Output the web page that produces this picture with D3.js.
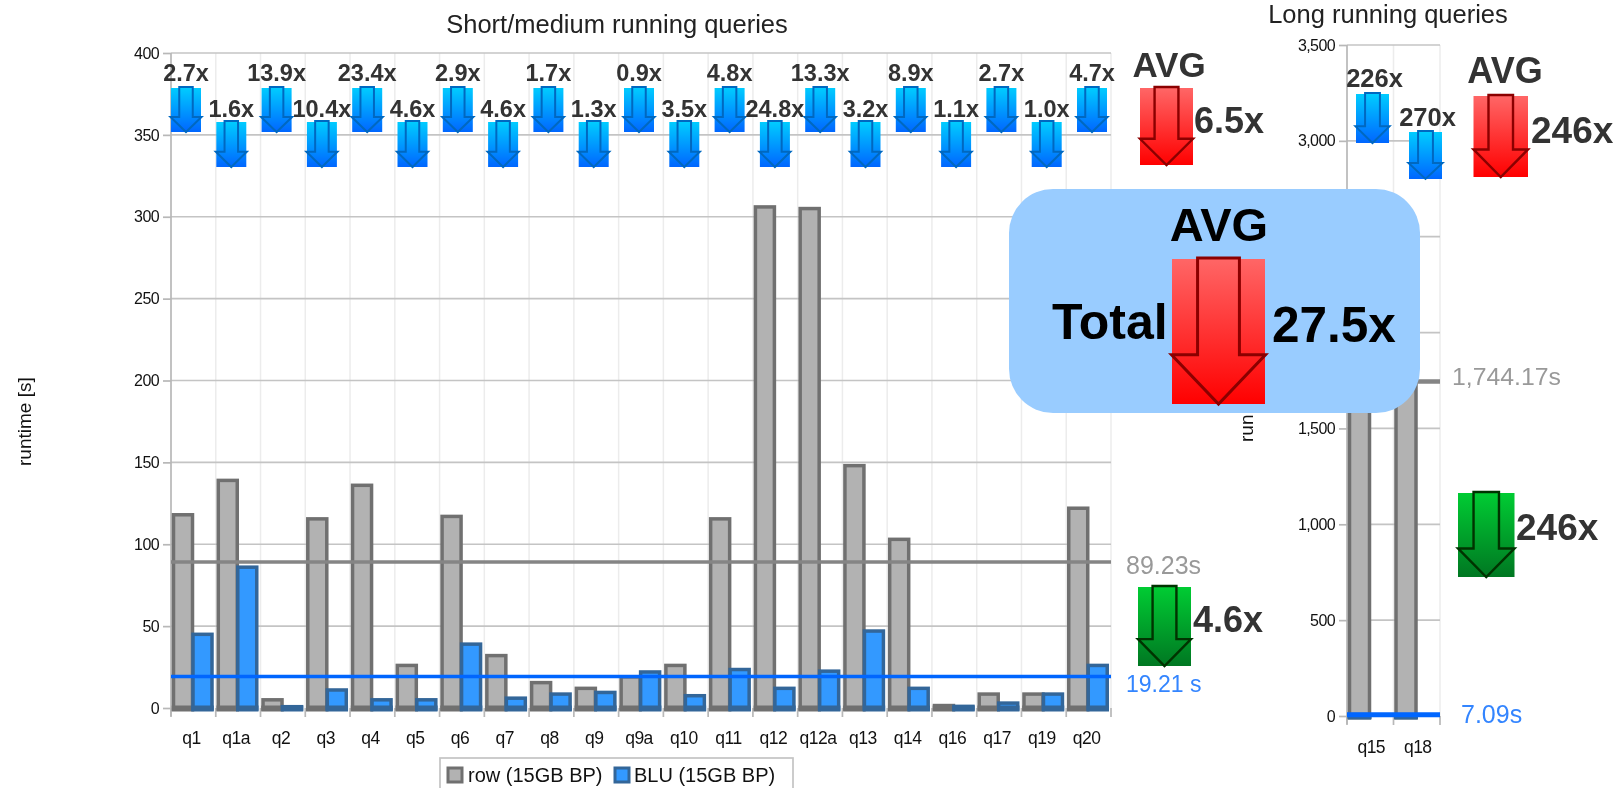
<!DOCTYPE html>
<html><head><meta charset="utf-8">
<script src="https://cdn.jsdelivr.net/npm/d3@7/dist/d3.min.js"></script>
<style>
html,body{margin:0;padding:0;background:#fff;overflow:hidden}
svg{display:block;filter:blur(0.7px)}
text{font-family:"Liberation Sans",Arial,sans-serif}
</style></head><body><svg id="c" width="1624" height="788"></svg>
<script>
const categories=["q1","q1a","q2","q3","q4","q5","q6","q7","q8","q9","q9a","q10","q11","q12","q12a","q13","q14","q16","q17","q19","q20"];
const rowValues=[118,139,5,115.5,136,26,117,32,15.5,12,19,26,115.5,306,305,148,103,1.5,8.5,8.5,122];
const bluValues=[45,86,0.8,11,5,5,39,6,8.5,9.5,22,7.5,23.5,12,22.5,47,12,1,3,8.5,26];
const ratios=["2.7x","1.6x","13.9x","10.4x","23.4x","4.6x","2.9x","4.6x","1.7x","1.3x","0.9x","3.5x","4.8x","24.8x","13.3x","3.2x","8.9x","1.1x","2.7x","1.0x","4.7x"];
const shortTicks=[0,50,100,150,200,250,300,350,400];
const longCategories=["q15","q18"];
const longRow=[1650,1838];
const longBlu=[7.3,6.8];
const longRatios=["226x","270x"];
const longTicks=[0,500,1000,1500,2000,2500,3000,3500];
const longTicksCovered=[2000,2500]; // their labels lie under the AVG box in the reference
const avgRow=89.23, avgBlu=19.21, avgLongRow=1744.17, avgLongBlu=7.09;
const legendItems=["row (15GB BP)","BLU (15GB BP)"];

const svg=d3.select("#c");
const C={grid:"#c4c4c4",vgrid:"#ececec",axis:"#b8b8b8",rowF:"#b2b2b2",rowS:"#707070",bluF:"#3399ff",bluS:"#336699",line:"#0066ff",avg:"#858585",txt:"#333"};

const defs=svg.append("defs");
function grad(id,a,b){const g=defs.append("linearGradient").attr("id",id).attr("x1",0).attr("y1",0).attr("x2",0).attr("y2",1);
 g.append("stop").attr("offset",0).attr("stop-color",a);g.append("stop").attr("offset",1).attr("stop-color",b);}
grad("gBlue","#00ccff","#0066ff");grad("gRed","#ff6666","#ff0000");grad("gGreen","#00cc33","#007722");

function panel(o){
 const g=svg.append("g");
 const x=d3.scaleBand().domain(o.cats).range([o.x0,o.x1]);
 const y=d3.scaleLinear().domain(o.domain).range([o.y0,o.y1]);
 const bounds=o.cats.map(d=>x(d)).concat([o.x1]);
 g.selectAll(".vg").data(bounds.slice(1)).join("line").attr("x1",d=>d).attr("x2",d=>d).attr("y1",o.y1).attr("y2",o.y0).attr("stroke",C.vgrid).attr("stroke-width",1.5);
 g.selectAll(".hg").data(o.ticks.filter(t=>t>0)).join("line").attr("x1",o.x0).attr("x2",o.x1).attr("y1",d=>y(d)).attr("y2",d=>y(d)).attr("stroke",C.grid).attr("stroke-width",1.7);
 g.append("line").attr("x1",o.x0).attr("x2",o.x0).attr("y1",o.y1).attr("y2",o.y0+8).attr("stroke",C.axis).attr("stroke-width",1.7);
 g.selectAll(".bt").data(bounds).join("line").attr("x1",d=>d).attr("x2",d=>d).attr("y1",o.y0).attr("y2",o.y0+9).attr("stroke",C.axis).attr("stroke-width",1.7);

 const fmt=d3.format(",");
 const ya=d3.axisLeft(y).tickValues(o.ticks).tickSize(8).tickPadding(4).tickFormat(d=>(o.covered||[]).includes(d)?"":fmt(d));
 const ga=g.append("g").attr("transform",`translate(${o.x0},0)`).call(ya);
 ga.select(".domain").remove();
 ga.selectAll(".tick line").attr("stroke",C.axis).attr("stroke-width",1.7);
 ga.selectAll("text").attr("font-size",16).attr("fill","#111").attr("letter-spacing",-0.6).attr("font-family","Liberation Sans");
 const xa=d3.axisBottom(x).tickSize(0).tickPadding(o.xpad);
 const gb=g.append("g").attr("transform",`translate(${o.xshift},0) translate(0,${o.y0})`).call(xa);
 gb.select(".domain").remove();
 gb.selectAll("text").attr("font-size",17.5).attr("fill","#111").attr("letter-spacing",-0.5).attr("font-family","Liberation Sans");

 const bw=o.barW;
 function bars(vals,off,f,s){
  const bg=g.append("g");
  bg.selectAll("rect.b").data(vals).join("rect").attr("class","b")
   .attr("x",(d,i)=>x(o.cats[i])+off).attr("width",bw)
   .attr("y",d=>y(d)).attr("height",d=>y(0)-y(d)+1)
   .attr("fill",f).attr("stroke",s).attr("stroke-width",o.sw);
  bg.selectAll("rect.f").data(vals).join("rect").attr("class","f")
   .attr("x",(d,i)=>x(o.cats[i])+off-o.sw/2).attr("width",bw+o.sw)
   .attr("y",y(0)-2.5).attr("height",6).attr("fill",s);
 }
 bars(o.row,o.off1,C.rowF,C.rowS);
 bars(o.blu,o.off2,C.bluF,C.bluS);
 return {g,x,y};
}

svg.append("text").attr("transform","translate(31,466) rotate(-90)").attr("font-size",19).attr("fill","#111").text("runtime [s]");
svg.append("text").attr("x",617).attr("y",33).attr("text-anchor","middle").attr("font-size",25.5).attr("fill","#222").text("Short/medium running queries");
svg.append("text").attr("x",1388).attr("y",23).attr("text-anchor","middle").attr("font-size",25.5).attr("fill","#222").text("Long running queries");
svg.append("text").attr("transform","translate(1253,442) rotate(-90)").attr("font-size",19).attr("fill","#111").text("run");

const L=panel({cats:categories,row:rowValues,blu:bluValues,domain:[0,400],ticks:shortTicks,x0:171,x1:1111,y0:708,y1:53,barW:19,off1:2.5,off2:22,sw:3.5,xpad:24,xshift:-2});
const R=panel({cats:longCategories,row:longRow,blu:longBlu,domain:[0,3500],ticks:longTicks,covered:longTicksCovered,x0:1347,x1:1440,y0:716,y1:45,barW:20,off1:2.5,off2:2.5,sw:3.5,xpad:25,xshift:1});
function hline(p,v,color,w,x0,x1){p.g.append("line").attr("x1",x0).attr("x2",x1).attr("y1",p.y(v)).attr("y2",p.y(v)).attr("stroke",color).attr("stroke-width",w);}
hline(L,avgRow,C.avg,3.5,171,1111);
hline(L,avgBlu,C.line,3.5,171,1111);
hline(R,avgLongRow,C.avg,4.5,1347,1440);
hline(R,avgLongBlu,C.line,5,1347,1440);

function arrow(x,y,w,h,fill,stroke,sw,over){
 const g=svg.append("g");
 g.append("rect").attr("x",x).attr("y",y).attr("width",w).attr("height",h).attr("fill",`url(#${fill})`);
 const cx=x+w/2,sh=w*0.225,hy=y+h*0.66,top=y-1;
 const p=d3.path();
 p.moveTo(cx-sh,top);p.lineTo(cx+sh,top);p.lineTo(cx+sh,hy);p.lineTo(x+w+over,hy);p.lineTo(cx,y+h);p.lineTo(x-over,hy);p.lineTo(cx-sh,hy);p.closePath();
 g.append("path").attr("d",p.toString()).attr("fill","none").attr("stroke",stroke).attr("stroke-width",sw);
}
function label(x,y,t,size,color,anchor,extra){
 return svg.append("text").attr("x",x).attr("y",y).attr("text-anchor",anchor||"middle").attr("font-size",size).attr("font-weight",extra===undefined?"bold":extra).attr("fill",color||C.txt).text(t);
}
const arrowX=d3.scalePoint().domain(categories).range([186,1092]);
categories.forEach((c,i)=>{
 const up=i%2===0, cx=arrowX(c);
 label(cx,up?81:117,ratios[i],23.5,C.txt);
 arrow(cx-15,up?88:122,30,up?44:45,"gBlue","#0068c0",2,0.5);
});
[[1372.5,94,87,49],[1425.5,132,126,47]].forEach((a,i)=>{
 label(a[0]+2,a[2],longRatios[i],25.5,C.txt);
 arrow(a[0]-16.5,a[1],33,a[3],"gBlue","#0068c0",2,0.5);
});
label(1169,77,"AVG",35);
arrow(1140,88,53,77,"gRed","#8b0000",2.4,0);
label(1194,133,"6.5x",36,C.txt,"start");
arrow(1138,587,53,79,"gGreen","#003300",2.4,0);
label(1193,632,"4.6x",36,C.txt,"start");
label(1505,83,"AVG",36);
arrow(1473.5,96,54.5,81,"gRed","#8b0000",2.4,0);
label(1531,143,"246x",37,C.txt,"start");
arrow(1458,493,56.5,84,"gGreen","#003300",2.4,0);
label(1516,540,"246x",37,C.txt,"start");

label(1126,574,avgRow+"s",25,"#999","start","normal");
label(1126,692,avgBlu+" s",23,"#3385ff","start","normal");
label(1461,723,avgLongBlu+"s",25,"#3385ff","start","normal");
label(1452,385,d3.format(",.2f")(avgLongRow)+"s",24.8,"#999","start","normal");

svg.append("rect").attr("x",1009).attr("y",189).attr("width",411).attr("height",224).attr("rx",44).attr("fill","#99ccff");
label(1219,241,"AVG",47,"#000");
arrow(1172,259,93,145,"gRed","#8b0000",3,0.5);
label(1052,339,"Total",50,"#000","start");
label(1272,342,"27.5x",49.5,"#000","start");

const lg=svg.append("g");
lg.append("rect").attr("x",440).attr("y",758).attr("width",353).attr("height",40).attr("fill","#fff").attr("stroke","#c4c4c4").attr("stroke-width",1.7);
[[448,C.rowF,C.rowS,468],[615,C.bluF,C.bluS,634]].forEach((a,i)=>{
 lg.append("rect").attr("x",a[0]).attr("y",768).attr("width",14).attr("height",14).attr("fill",a[1]).attr("stroke",a[2]).attr("stroke-width",3);
 lg.append("text").attr("x",a[3]).attr("y",782).attr("font-size",20).attr("fill","#111").text(legendItems[i]);
});
</script></body></html>
